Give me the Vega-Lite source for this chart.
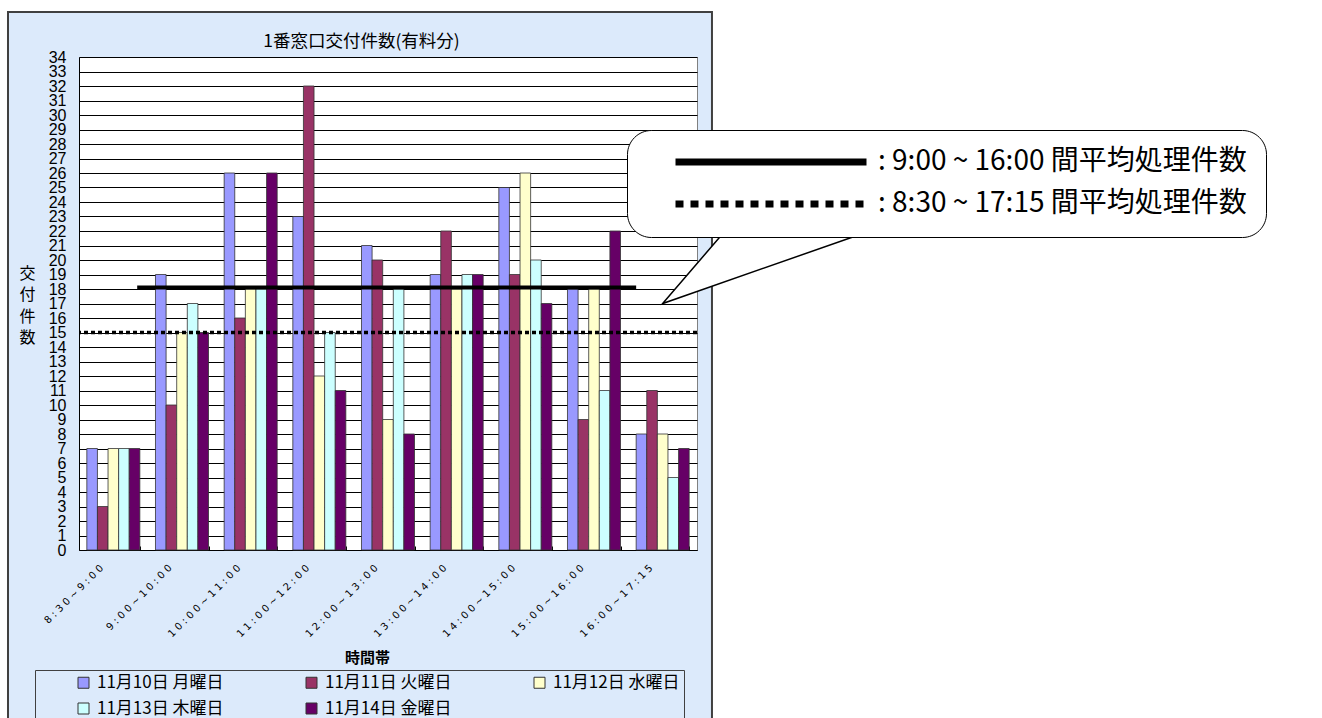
{
  "$schema": "https://vega.github.io/schema/vega-lite/v6.json",
  "width": 618,
  "height": 493,
  "autosize": {"type": "none"},
  "padding": {"left": 79, "top": 57, "right": 625, "bottom": 168},
  "background": "#DCEAFB",
  "config": {"view": {"fill": "white", "stroke": "#808080", "strokeWidth": 1}, "font": "Noto Sans CJK JP"},
  "resolve": {"scale": {"x": "independent"}},
  "layer": [
    {
      "data": {"values": [
        {"time": "8:30~9:00", "day": "11月10日 月曜日", "count": 7},
        {"time": "8:30~9:00", "day": "11月11日 火曜日", "count": 3},
        {"time": "8:30~9:00", "day": "11月12日 水曜日", "count": 7},
        {"time": "8:30~9:00", "day": "11月13日 木曜日", "count": 7},
        {"time": "8:30~9:00", "day": "11月14日 金曜日", "count": 7},
        {"time": "9:00~10:00", "day": "11月10日 月曜日", "count": 19},
        {"time": "9:00~10:00", "day": "11月11日 火曜日", "count": 10},
        {"time": "9:00~10:00", "day": "11月12日 水曜日", "count": 15},
        {"time": "9:00~10:00", "day": "11月13日 木曜日", "count": 17},
        {"time": "9:00~10:00", "day": "11月14日 金曜日", "count": 15},
        {"time": "10:00~11:00", "day": "11月10日 月曜日", "count": 26},
        {"time": "10:00~11:00", "day": "11月11日 火曜日", "count": 16},
        {"time": "10:00~11:00", "day": "11月12日 水曜日", "count": 18},
        {"time": "10:00~11:00", "day": "11月13日 木曜日", "count": 18},
        {"time": "10:00~11:00", "day": "11月14日 金曜日", "count": 26},
        {"time": "11:00~12:00", "day": "11月10日 月曜日", "count": 23},
        {"time": "11:00~12:00", "day": "11月11日 火曜日", "count": 32},
        {"time": "11:00~12:00", "day": "11月12日 水曜日", "count": 12},
        {"time": "11:00~12:00", "day": "11月13日 木曜日", "count": 15},
        {"time": "11:00~12:00", "day": "11月14日 金曜日", "count": 11},
        {"time": "12:00~13:00", "day": "11月10日 月曜日", "count": 21},
        {"time": "12:00~13:00", "day": "11月11日 火曜日", "count": 20},
        {"time": "12:00~13:00", "day": "11月12日 水曜日", "count": 9},
        {"time": "12:00~13:00", "day": "11月13日 木曜日", "count": 18},
        {"time": "12:00~13:00", "day": "11月14日 金曜日", "count": 8},
        {"time": "13:00~14:00", "day": "11月10日 月曜日", "count": 19},
        {"time": "13:00~14:00", "day": "11月11日 火曜日", "count": 22},
        {"time": "13:00~14:00", "day": "11月12日 水曜日", "count": 18},
        {"time": "13:00~14:00", "day": "11月13日 木曜日", "count": 19},
        {"time": "13:00~14:00", "day": "11月14日 金曜日", "count": 19},
        {"time": "14:00~15:00", "day": "11月10日 月曜日", "count": 25},
        {"time": "14:00~15:00", "day": "11月11日 火曜日", "count": 19},
        {"time": "14:00~15:00", "day": "11月12日 水曜日", "count": 26},
        {"time": "14:00~15:00", "day": "11月13日 木曜日", "count": 20},
        {"time": "14:00~15:00", "day": "11月14日 金曜日", "count": 17},
        {"time": "15:00~16:00", "day": "11月10日 月曜日", "count": 18},
        {"time": "15:00~16:00", "day": "11月11日 火曜日", "count": 9},
        {"time": "15:00~16:00", "day": "11月12日 水曜日", "count": 18},
        {"time": "15:00~16:00", "day": "11月13日 木曜日", "count": 11},
        {"time": "15:00~16:00", "day": "11月14日 金曜日", "count": 22},
        {"time": "16:00~17:15", "day": "11月10日 月曜日", "count": 8},
        {"time": "16:00~17:15", "day": "11月11日 火曜日", "count": 11},
        {"time": "16:00~17:15", "day": "11月12日 水曜日", "count": 8},
        {"time": "16:00~17:15", "day": "11月13日 木曜日", "count": 5},
        {"time": "16:00~17:15", "day": "11月14日 金曜日", "count": 7}
      ]},
      "mark": {"type": "bar", "stroke": "#333333", "strokeWidth": 0.8},
      "encoding": {
        "x": {
          "field": "time", "type": "nominal",
          "scale": {"domain": ["8:30~9:00", "9:00~10:00", "10:00~11:00", "11:00~12:00", "12:00~13:00", "13:00~14:00", "14:00~15:00", "15:00~16:00", "16:00~17:15"], "paddingInner": 0.228, "paddingOuter": 0.114},
          "title": "時間帯",
          "axis": {
            "labelAngle": -45, "labelAlign": "right", "labelBaseline": "middle",
            "labelFont": "DejaVu Sans", "labelFontSize": 10, "labelColor": "#000000",
            "labelPadding": 20, "labelOffset": -12,
            "labelExpr": "join(split(datum.label, ''), ' ')",
            "tickBand": "extent", "tickSize": -4, "tickColor": "#000000",
            "domainColor": "#000000", "grid": false,
            "titleFont": "Noto Sans CJK JP", "titleFontSize": 15, "titleFontWeight": "bold", "titleColor": "#000000",
            "titleX": 288, "titleY": 107, "titleAlign": "center", "titleBaseline": "middle"
          }
        },
        "xOffset": {"field": "day", "type": "nominal", "sort": null, "scale": {"paddingInner": 0, "paddingOuter": 0}},
        "y": {
          "field": "count", "type": "quantitative",
          "scale": {"domain": [0, 34], "nice": false},
          "title": ["交", "付", "件", "数"],
          "axis": {
            "tickCount": 34, "labelFont": "Liberation Sans", "labelFontSize": 16, "labelColor": "#000000",
            "labelPadding": 13, "labelOverlap": false, "labelFlush": false, "labelBound": false,
            "ticks": false, "grid": true, "gridColor": "#000000", "gridWidth": 1, "gridOpacity": 1,
            "domainColor": "#000000",
            "titleAngle": 0, "titleFont": "Noto Sans CJK JP", "titleFontSize": 16, "titleFontWeight": "normal", "titleColor": "#000000",
            "titleLineHeight": 21.5, "titleX": -52, "titleY": 216, "titleAlign": "center", "titleBaseline": "middle"
          }
        },
        "fill": {
          "field": "day", "type": "nominal", "sort": null,
          "scale": {"range": ["#9999FF", "#993366", "#FFFFCC", "#CCFFFF", "#660066"]},
          "legend": {
            "orient": "none", "legendX": -44, "legendY": 613, "title": null,
            "direction": "horizontal", "columns": 3,
            "symbolType": "square", "symbolSize": 121, "symbolStrokeColor": "#333333", "symbolStrokeWidth": 1, "symbolOffset": 36,
            "labelFont": "Noto Sans CJK JP", "labelFontSize": 17, "labelColor": "#000000", "labelOffset": 5,
            "columnPadding": 43, "rowPadding": 8, "padding": 4,
            "strokeColor": "#404040"
          }
        }
      }
    },
    {
      "data": {"values": [{"series": ": 9:00 ~ 16:00 間平均処理件数", "avg": 18.1, "from": "8:30~9:00", "to": "16:00~17:15"}]},
      "mark": {"type": "rule", "strokeWidth": 4, "color": "#000000"},
      "encoding": {
        "x": {"field": "from", "type": "nominal", "bandPosition": 0.95, "axis": null,
              "scale": {"domain": ["8:30~9:00", "9:00~10:00", "10:00~11:00", "11:00~12:00", "12:00~13:00", "13:00~14:00", "14:00~15:00", "15:00~16:00", "16:00~17:15"], "paddingInner": 0.228, "paddingOuter": 0.114}},
        "x2": {"field": "to", "bandPosition": 0},
        "y": {"field": "avg", "type": "quantitative"},
        "strokeDash": {
          "field": "series", "type": "nominal",
          "scale": {"domain": [": 9:00 ~ 16:00 間平均処理件数", ": 8:30 ~ 17:15 間平均処理件数"], "range": [[1, 0], [8, 7]]},
          "legend": {
            "orient": "none", "legendX": 548, "legendY": 73, "title": null,
            "symbolType": "stroke", "symbolSize": 36481, "symbolStrokeWidth": 7, "symbolStrokeColor": "#000000", "symbolOffset": 26, "symbolOpacity": 1,
            "clipHeight": 26,
            "labelFont": "Noto Sans CJK JP", "labelFontSize": 28, "labelColor": "#000000", "labelLimit": 1000, "labelOffset": 8,
            "rowPadding": 14, "padding": 19,
            "fillColor": "#FFFFFF", "strokeColor": "#000000", "cornerRadius": 24
          }
        }
      }
    },
    {
      "data": {"values": [{"series": ": 8:30 ~ 17:15 間平均処理件数", "avg": 15.0}]},
      "mark": {"type": "rule", "strokeWidth": 3.5, "color": "#000000", "strokeOpacity": 0},
      "encoding": {
        "y": {"field": "avg", "type": "quantitative"},
        "strokeDash": {"field": "series", "type": "nominal"}
      }
    },
    {
      "data": {"values": [{"series": ": 8:30 ~ 17:15 間平均処理件数", "avg": 15.0}]},
      "mark": {"type": "rule", "strokeWidth": 3.5, "color": "#000000", "strokeDash": [4, 3]},
      "encoding": {
        "y": {"field": "avg", "type": "quantitative"}
      }
    },
    {
      "data": {"values": [{}]},
      "mark": {"type": "rect", "fill": "#FFFFFF", "stroke": null},
      "encoding": {
        "x": {"datum": 9.218, "type": "quantitative", "scale": {"domain": [0, 9], "nice": false, "zero": false},
              "axis": {"orient": "top", "labels": false, "ticks": false, "domain": false, "grid": false,
                       "title": "1番窓口交付件数(有料分)", "titleFont": "Noto Sans CJK JP", "titleFontSize": 17.5, "titleFontWeight": "normal", "titleColor": "#000000",
                       "titleX": 282, "titleY": -11, "titleAlign": "center", "titleBaseline": "alphabetic", "titleAngle": 0}},
        "x2": {"datum": 19},
        "y": {"datum": -14, "type": "quantitative"},
        "y2": {"datum": 41}
      }
    },
    {
      "data": {"values": [{}]},
      "mark": {"type": "rect", "fill": "#FFFFFF", "stroke": null},
      "encoding": {
        "x": {"datum": -2, "type": "quantitative", "scale": {"domain": [0, 9], "nice": false, "zero": false}, "axis": null},
        "x2": {"datum": -1.034},
        "y": {"datum": -14, "type": "quantitative"},
        "y2": {"datum": 41}
      }
    },
    {
      "data": {"values": [{}]},
      "mark": {"type": "rect", "fill": "#FFFFFF", "stroke": null},
      "encoding": {
        "x": {"datum": -2, "type": "quantitative", "scale": {"domain": [0, 9], "nice": false, "zero": false}, "axis": null},
        "x2": {"datum": 19},
        "y": {"datum": 37.1, "type": "quantitative"},
        "y2": {"datum": 41}
      }
    },
    {
      "data": {"values": [{}]},
      "mark": {"type": "rect", "fillOpacity": 0, "stroke": "#404040", "strokeWidth": 2},
      "encoding": {
        "x": {"datum": -1.034, "type": "quantitative", "scale": {"domain": [0, 9], "nice": false, "zero": false}, "axis": null},
        "x2": {"datum": 9.218},
        "y": {"datum": -14, "type": "quantitative"},
        "y2": {"datum": 37.1}
      }
    },
    {
      "data": {"values": [{}]},
      "mark": {"type": "point", "shape": "M0,0L0.3007,-0.3497L1,-0.3497Z", "size": 184041, "filled": true, "fill": "#FFFFFF", "stroke": "#000000", "strokeWidth": 1.5, "opacity": 1},
      "encoding": {
        "x": {"datum": "16:00~17:15", "type": "nominal", "axis": null,
              "scale": {"domain": ["8:30~9:00", "9:00~10:00", "10:00~11:00", "11:00~12:00", "12:00~13:00", "13:00~14:00", "14:00~15:00", "15:00~16:00", "16:00~17:15"], "paddingInner": 0.228, "paddingOuter": 0.114}},
        "y": {"datum": 17, "type": "quantitative"}
      }
    }
  ]
}
